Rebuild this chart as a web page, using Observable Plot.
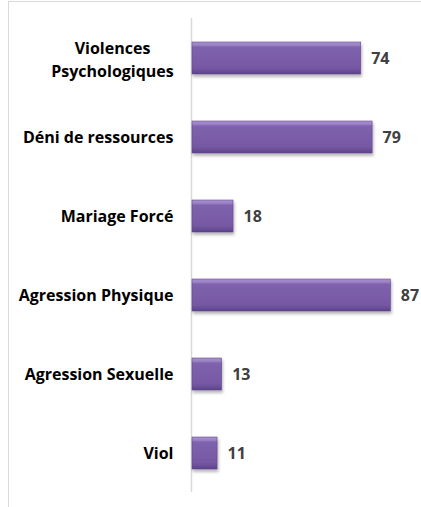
<!DOCTYPE html>
<html>
<head>
<meta charset="utf-8">
<script src="https://cdn.jsdelivr.net/npm/d3@7"></script>
<script src="https://cdn.jsdelivr.net/npm/@observablehq/plot@0.6"></script>
<style>
  html, body { margin: 0; padding: 0; background: #fff; overflow: hidden; }
  #wrap { position: relative; width: 421px; height: 507px; overflow: hidden; }
  #frame { position: absolute; left: 8px; top: 1px; width: 440px; height: 540px; border: 1px solid #d9d9d9; box-sizing: border-box; }
  #chart { position: absolute; left: 0; top: 0; }
</style>
</head>
<body>
<div id="wrap"><div id="frame"></div><div id="chart"></div></div>
<script>
const categories = ["Violences\nPsychologiques", "Déni de ressources", "Mariage Forcé", "Agression Physique", "Agression Sexuelle", "Viol"];
const values = [74, 79, 18, 87, 13, 11];

const data = categories.map((c, i) => ({category: c, value: values[i]}));
const isMulti = d => d.category.includes("\n");

const chart = Plot.plot({
  width: 421,
  height: 507,
  marginLeft: 192,
  marginRight: 1,
  marginTop: 18,
  marginBottom: 15,
  x: {domain: [0, 100], axis: null},
  y: {domain: categories, axis: null, paddingInner: 0.6, paddingOuter: 0.3},
  style: {fontFamily: "'Open Sans', sans-serif", background: "transparent", overflow: "visible"},
  marks: [
    Plot.ruleX([0], {stroke: "#d9d9d9", strokeWidth: 1.5, dx: -1}),
    Plot.barX(data, {x: "value", y: "category", fill: "url(#barGrad)", stroke: "#634790", strokeWidth: 0.6}),
    Plot.text(data.filter(d => !isMulti(d)), {x: 0, y: "category", text: "category", textAnchor: "end", dx: -19, fontWeight: "bold", fontSize: 16, fill: "#000"}),
    Plot.text(data.filter(isMulti), {x: 0, y: "category", text: "category", textAnchor: "middle", dx: -80, lineHeight: 1.44, fontWeight: "bold", fontSize: 16, fill: "#000"}),
    Plot.text(data, {x: "value", y: "category", text: d => String(d.value), textAnchor: "start", dx: 10, fontWeight: "bold", fontSize: 16, fill: "#404040"})
  ]
});

chart.insertAdjacentHTML("afterbegin", `
<defs>
  <linearGradient id="barGrad" x1="0" y1="0" x2="0" y2="1">
    <stop offset="0" stop-color="#a791d0"/>
    <stop offset="0.1" stop-color="#9a83c4"/>
    <stop offset="0.16" stop-color="#7f62ad"/>
    <stop offset="0.8" stop-color="#7658a4"/>
    <stop offset="0.92" stop-color="#684c96"/>
    <stop offset="1" stop-color="#5a3f86"/>
  </linearGradient>
  <filter id="barShadow" x="-10%" y="-20%" width="130%" height="160%">
    <feDropShadow dx="1" dy="2.5" stdDeviation="1.5" flood-color="#000" flood-opacity="0.3"/>
  </filter>
</defs>`);
chart.querySelectorAll('g[aria-label="bar"] rect').forEach(r => r.setAttribute("filter", "url(#barShadow)"));

document.getElementById("chart").appendChild(chart);
</script>
</body>
</html>
